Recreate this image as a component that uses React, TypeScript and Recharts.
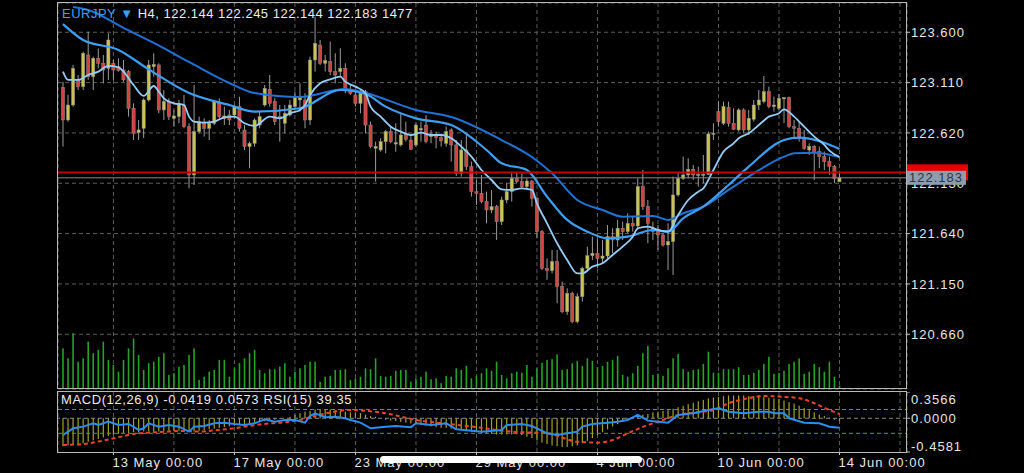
import React from 'react';
import {
  ComposedChart,
  Bar,
  Line,
  XAxis,
  YAxis,
  CartesianGrid,
  ReferenceLine,
} from 'recharts';

const FONT = "'Liberation Sans', Arial, sans-serif";

// EURJPY H4 candles, bar 0 .. bar 154 (last bar = 14 Jun 00:00)
const opens = [
  123.064, 122.746, 122.892, 123.136, 123.071, 123.379, 123.168, 123.346, 123.298, 123.249,
  123.298, 123.265, 123.233, 123.217, 122.860, 122.623, 122.665, 122.941, 123.265, 123.282,
  122.844, 122.925, 122.762, 122.779, 122.892, 122.681, 122.211, 122.633, 122.714, 122.665,
  122.714, 122.908, 122.762, 122.795, 122.795, 122.876, 122.649, 122.487, 122.519, 122.697,
  122.892, 123.045, 122.925, 122.779, 122.714, 122.795, 122.876, 122.941, 122.941, 122.746,
  123.330, 123.476, 123.298, 123.314, 123.217, 123.217, 123.249, 123.038, 122.990, 122.908,
  123.022, 122.697, 122.470, 122.454, 122.535, 122.633, 122.512, 122.503, 122.607, 122.551,
  122.503, 122.649, 122.697, 122.584, 122.600, 122.574, 122.519, 122.649, 122.503, 122.227,
  122.454, 122.292, 122.048, 122.032, 121.951, 121.870, 121.902, 121.756, 121.967, 122.048,
  122.178, 122.146, 122.097, 122.152, 121.984, 121.659, 121.302, 121.279, 121.367, 121.124,
  120.880, 121.059, 120.783, 121.026, 121.302, 121.425, 121.448, 121.399, 121.422, 121.610,
  121.578, 121.692, 121.659, 121.740, 121.714, 122.097, 121.902, 121.692, 121.675, 121.627,
  121.529, 121.562, 122.016, 122.178, 122.211, 122.266, 122.211, 122.211, 122.217, 122.610,
  122.827, 122.714, 122.869, 122.714, 122.649, 122.844, 122.649, 122.753, 122.892, 122.925,
  123.022, 122.876, 122.860, 122.951, 122.964, 122.681, 122.665, 122.568, 122.454, 122.487,
  122.438, 122.389, 122.341, 122.292, 122.144,
];
const highs = [
  123.119, 122.990, 123.282, 123.184, 123.411, 123.606, 123.363, 123.444, 123.379, 123.590,
  123.330, 123.346, 123.330, 123.233, 122.908, 122.746, 122.957, 123.330, 123.395, 123.298,
  123.038, 122.957, 122.844, 122.941, 122.990, 122.714, 123.087, 122.779, 122.762, 122.746,
  122.941, 122.957, 122.876, 122.844, 122.892, 122.973, 122.697, 122.535, 122.762, 122.827,
  123.087, 123.184, 122.957, 122.892, 122.892, 122.941, 123.022, 123.103, 123.006, 123.363,
  123.752, 123.525, 123.379, 123.509, 123.395, 123.444, 123.298, 123.087, 123.038, 123.038,
  123.038, 122.730, 122.535, 122.568, 122.649, 122.681, 122.714, 122.811, 122.730, 122.600,
  122.714, 122.730, 122.795, 122.649, 122.633, 122.616, 122.681, 122.665, 122.551, 122.551,
  122.616, 122.341, 122.162, 122.211, 122.048, 122.065, 121.919, 122.000, 122.130, 122.243,
  122.243, 122.227, 122.178, 122.162, 122.000, 121.675, 121.399, 121.481, 121.481, 121.172,
  121.107, 121.075, 121.059, 121.318, 121.513, 121.610, 121.594, 121.578, 121.724, 121.692,
  121.773, 121.756, 121.838, 121.805, 122.178, 122.259, 121.967, 121.756, 121.724, 121.643,
  121.740, 122.195, 122.243, 122.389, 122.373, 122.308, 122.292, 122.405, 122.633, 122.714,
  122.925, 122.925, 122.925, 122.860, 122.860, 122.860, 122.844, 122.941, 123.038, 123.174,
  123.071, 122.973, 122.999, 122.967, 122.973, 122.746, 122.730, 122.649, 122.519, 122.503,
  122.487, 122.438, 122.389, 122.308, 122.245,
];
const lows = [
  122.487, 122.730, 122.876, 123.038, 123.038, 123.136, 123.038, 123.249, 123.103, 123.136,
  123.136, 123.217, 123.119, 122.779, 122.551, 122.551, 122.568, 122.925, 123.168, 122.811,
  122.746, 122.746, 122.681, 122.714, 122.665, 122.081, 122.113, 122.616, 122.584, 122.551,
  122.697, 122.746, 122.697, 122.697, 122.762, 122.633, 122.454, 122.276, 122.487, 122.665,
  122.876, 122.876, 122.697, 122.535, 122.616, 122.779, 122.860, 122.827, 122.665, 122.697,
  123.217, 123.282, 123.217, 123.184, 123.103, 123.168, 123.006, 122.990, 122.876, 122.811,
  122.616, 122.470, 122.146, 122.438, 122.422, 122.519, 122.438, 122.487, 122.535, 122.454,
  122.487, 122.535, 122.519, 122.519, 122.470, 122.487, 122.487, 122.341, 122.201, 122.195,
  122.259, 122.000, 121.919, 121.935, 121.740, 121.838, 121.578, 121.724, 121.935, 121.951,
  122.130, 122.081, 122.065, 121.902, 121.594, 121.286, 121.189, 121.253, 120.961, 120.864,
  120.848, 120.767, 120.767, 120.978, 121.270, 121.383, 121.302, 121.351, 121.399, 121.448,
  121.513, 121.578, 121.643, 121.659, 121.675, 121.870, 121.546, 121.578, 121.481, 121.513,
  121.286, 121.237, 122.000, 122.162, 122.178, 122.162, 122.097, 122.130, 122.211, 122.551,
  122.681, 122.697, 122.681, 122.649, 122.633, 122.616, 122.600, 122.730, 122.844, 122.908,
  122.860, 122.827, 122.844, 122.714, 122.665, 122.568, 122.535, 122.454, 122.405, 122.162,
  122.276, 122.259, 122.211, 122.130, 122.144,
];
const closes = [
  122.746, 122.892, 123.249, 123.071, 123.395, 123.168, 123.346, 123.298, 123.233, 123.525,
  123.233, 123.226, 123.136, 122.860, 122.616, 122.649, 122.941, 123.282, 123.288, 122.844,
  122.925, 122.779, 122.785, 122.908, 122.681, 122.211, 122.633, 122.730, 122.665, 122.714,
  122.925, 122.779, 122.785, 122.746, 122.876, 122.665, 122.487, 122.519, 122.746, 122.779,
  123.054, 122.908, 122.730, 122.762, 122.811, 122.892, 122.973, 122.967, 122.746, 123.330,
  123.493, 123.298, 123.324, 123.217, 123.184, 123.249, 123.038, 123.006, 122.908, 123.006,
  122.697, 122.487, 122.487, 122.535, 122.633, 122.535, 122.525, 122.600, 122.558, 122.461,
  122.697, 122.665, 122.535, 122.600, 122.574, 122.542, 122.633, 122.503, 122.227, 122.454,
  122.292, 122.048, 122.032, 121.951, 121.870, 121.902, 121.756, 121.967, 122.048, 122.178,
  122.146, 122.097, 122.152, 121.984, 121.659, 121.302, 121.279, 121.367, 121.124, 120.880,
  121.059, 120.783, 121.026, 121.302, 121.425, 121.448, 121.399, 121.422, 121.610, 121.578,
  121.692, 121.659, 121.740, 121.714, 122.097, 121.902, 121.740, 121.659, 121.627, 121.529,
  121.562, 122.016, 122.178, 122.211, 122.266, 122.211, 122.217, 122.217, 122.610, 122.616,
  122.730, 122.876, 122.714, 122.655, 122.844, 122.649, 122.762, 122.892, 122.941, 123.022,
  122.876, 122.892, 122.957, 122.964, 122.681, 122.665, 122.568, 122.470, 122.487, 122.438,
  122.389, 122.341, 122.292, 122.178, 122.183,
];
const volumes = [
  18300, 13800, 25100, 12300, 13800, 21300, 16100, 17600, 21300, 13100,
  10800, 7800, 13100, 18300, 22800, 15300, 8600, 11600, 12300, 14500,
  16100, 6300, 7100, 10000, 10800, 15300, 18300, 4100, 5500, 7800,
  8600, 13100, 13100, 5500, 9300, 11600, 13800, 16100, 17600, 8600,
  7100, 8900, 8900, 10000, 11600, 5500, 7800, 9300, 10800, 12300,
  12300, 3300, 5500, 5900, 8600, 8600, 8900, 4100, 4800, 5500,
  9300, 8900, 13800, 5900, 5500, 5900, 8200, 8600, 8600, 3300,
  4800, 5500, 7800, 4400, 4800, 2600, 5900, 5500, 9300, 8600,
  10400, 4800, 5900, 7100, 9300, 8200, 12300, 6300, 4800, 7100,
  7800, 7300, 10800, 5500, 9300, 11800, 13100, 13400, 15600, 8600,
  8900, 11600, 12700, 10400, 13800, 12700, 9800, 10400, 12300, 13100,
  14900, 6300, 5500, 7100, 10400, 16100, 19400, 6300, 6800, 5900,
  9300, 13800, 15800, 8900, 7800, 8600, 8900, 11300, 16800, 7300,
  7300, 8900, 8900, 8900, 9800, 6300, 6300, 7300, 8600, 11300,
  14500, 6800, 7300, 8200, 11300, 12300, 13800, 6800, 7800, 11300,
  9800, 7800, 12300, 5500, 1477,
];

// moving averages, read at [bar, price]
const fastMa = [
  [0, 123.217], [1, 123.136], [3, 123.136], [5, 123.184], [7, 123.217], [9, 123.272], [11, 123.259],
  [12, 123.217], [14, 123.087], [16, 122.98], [18, 123.077], [19, 123.022], [20, 122.957], [22, 122.908],
  [24, 122.892], [25, 122.779], [26, 122.73], [28, 122.72], [30, 122.73], [32, 122.772], [34, 122.779],
  [36, 122.714], [38, 122.688], [41, 122.779], [43, 122.762], [45, 122.811], [47, 122.844], [48, 122.892],
  [49, 122.99], [51, 123.103], [53, 123.142], [55, 123.168], [56, 123.119], [58, 123.071], [60, 123.006],
  [61, 122.876], [63, 122.779], [65, 122.681], [67, 122.633], [69, 122.6], [71, 122.623], [73, 122.6],
  [75, 122.6], [77, 122.568], [79, 122.487], [81, 122.389], [83, 122.259], [85, 122.162], [87, 122.071],
  [89, 122.065], [91, 122.081], [93, 122.065], [94, 121.935], [96, 121.74], [98, 121.546], [100, 121.383],
  [102, 121.253], [103, 121.253], [105, 121.318], [107, 121.351], [109, 121.432], [111, 121.513],
  [113, 121.61], [114, 121.692], [116, 121.708], [118, 121.675], [120, 121.659], [122, 121.821],
  [124, 121.967], [126, 122.048], [127, 122.081], [129, 122.259], [131, 122.438], [133, 122.519],
  [134, 122.568], [136, 122.616], [138, 122.697], [140, 122.779], [142, 122.811], [143, 122.85],
  [145, 122.779], [147, 122.681], [149, 122.584], [151, 122.503], [152, 122.448], [154, 122.386],
];
const midMa = [
  [0, 123.68], [4, 123.525], [11, 123.428], [17, 123.239], [25, 123.009], [33, 122.892], [38, 122.827],
  [47, 122.86], [55, 123.038], [60, 122.999], [64, 122.876], [70, 122.762], [77, 122.697], [84, 122.454],
  [87, 122.324], [92, 122.259], [96, 122.0], [100, 121.773], [104, 121.659], [108, 121.594], [112, 121.61],
  [117, 121.675], [120, 121.659], [123, 121.789], [127, 121.902], [132, 122.113], [136, 122.292],
  [143, 122.551], [146, 122.574], [151, 122.525], [154, 122.464],
];
const slowMa = [
  [2, 123.846], [5, 123.817], [12, 123.642], [18, 123.496], [25, 123.311], [33, 123.106], [38, 123.009],
  [47, 122.97], [56, 123.048], [60, 123.009], [70, 122.844], [77, 122.775], [87, 122.551], [93, 122.386],
  [97, 122.227], [102, 121.967], [107, 121.87], [111, 121.805], [117, 121.812], [120, 121.773],
  [123, 121.838], [127, 121.902], [132, 122.065], [136, 122.195], [143, 122.389], [145, 122.422],
  [149, 122.428], [154, 122.386],
];

// MACD(12,26,9) main per bar
const macdMain = [
  -0.38, -0.37, -0.36, -0.35, -0.34, -0.32, -0.30, -0.28, -0.26, -0.24,
  -0.22, -0.21, -0.20, -0.20, -0.19, -0.19, -0.18, -0.18, -0.18, -0.18,
  -0.18, -0.17, -0.17, -0.17, -0.17, -0.18, -0.18, -0.17, -0.16, -0.15,
  -0.14, -0.13, -0.12, -0.11, -0.10, -0.09, -0.08, -0.07, -0.06, -0.05,
  -0.04, -0.03, -0.02, -0.01, 0.0, 0.02, 0.05, 0.07, 0.09, 0.10,
  0.12, 0.12, 0.12, 0.12, 0.11, 0.10, 0.09, 0.08, 0.08, 0.07,
  0.05, 0.03, 0.02, 0.0, -0.02, -0.03, -0.04, -0.05, -0.06, -0.07,
  -0.08, -0.09, -0.10, -0.11, -0.12, -0.13, -0.13, -0.14, -0.15, -0.16,
  -0.17, -0.18, -0.19, -0.20, -0.21, -0.21, -0.22, -0.22, -0.22, -0.22,
  -0.22, -0.23, -0.25, -0.27, -0.30, -0.33, -0.35, -0.37, -0.38, -0.39,
  -0.39, -0.38, -0.37, -0.34, -0.31, -0.27, -0.23, -0.19, -0.15, -0.11,
  -0.08, -0.05, -0.02, 0.01, 0.03, 0.05, 0.06, 0.08, 0.09, 0.10,
  0.11, 0.13, 0.15, 0.17, 0.19, 0.21, 0.23, 0.25, 0.27, 0.28,
  0.29, 0.30, 0.31, 0.31, 0.31, 0.31, 0.30, 0.30, 0.29, 0.29,
  0.28, 0.27, 0.26, 0.24, 0.22, 0.20, 0.17, 0.14, 0.11, 0.08,
  0.05, 0.03, 0.01, -0.02, -0.0419,
];
const macdSignal = [
  [0, -0.362], [4, -0.35], [7, -0.317], [11, -0.258], [14, -0.213], [17, -0.195], [21, -0.181],
  [24, -0.172], [27, -0.181], [31, -0.158], [34, -0.136], [37, -0.104], [40, -0.077], [44, -0.054],
  [47, -0.023], [50, 0.032], [54, 0.09], [57, 0.113], [60, 0.1], [64, 0.068], [67, 0.023], [70, -0.023],
  [74, -0.059], [77, -0.081], [80, -0.104], [83, -0.13], [86, -0.16], [89, -0.182], [96, -0.204],
  [102, -0.318], [106, -0.331], [109, -0.295], [112, -0.204], [116, -0.091], [119, -0.023], [122, 0.045],
  [129, 0.113], [132, 0.204], [136, 0.272], [139, 0.303], [142, 0.294], [146, 0.272], [149, 0.204],
  [152, 0.113], [154, 0.0573],
];
const rsi15 = [
  [0, 27.2], [2, 38.4], [4, 41.2], [6, 46.8], [7, 44], [9, 49.6], [11, 44], [13, 45.7], [15, 35.6],
  [16, 38.4], [17, 46.8], [19, 41.2], [21, 44], [23, 41.2], [25, 32.8], [26, 41.2], [28, 42.3],
  [30, 46.8], [32, 47.9], [34, 45.7], [36, 44], [38, 46.8], [40, 53.5], [42, 49.6], [44, 52.4],
  [46, 52.4], [48, 47.9], [49, 59.1], [50, 63.6], [52, 56.9], [54, 58], [56, 55.2], [57, 52.4],
  [59, 47.9], [61, 38.4], [64, 41.2], [66, 42.3], [69, 40.1], [70, 46.8], [73, 44], [76, 46.8],
  [78, 36.7], [81, 34.5], [83, 32.8], [87, 35.6], [88, 44], [91, 45.7], [93, 42.3], [96, 30],
  [98, 27.2], [100, 30], [102, 32.8], [103, 41.2], [105, 45.7], [108, 47.9], [110, 49.6], [112, 52.4],
  [114, 60.8], [116, 51.3], [118, 49.6], [120, 47.9], [122, 60.8], [125, 63.6], [128, 69.2], [130, 72],
  [132, 66.4], [135, 63.6], [138, 66.4], [140, 66.4], [141, 63.6], [143, 63.6], [144, 55.2],
  [147, 47.9], [150, 46.8], [152, 41.2], [154, 39.35],
];

const priceTicks = [123.6, 123.11, 122.62, 122.13, 121.64, 121.15, 120.66];
const macdTicks = [0.3566, 0, -0.4581];
const rsiLevels = [70, 30];
const gridBars = [10, 22, 34, 46, 58, 70, 82, 94, 106, 118, 130, 142, 154, 166];
const dateBars = [10, 34, 58, 82, 106, 130, 154];
const dateLabels = ['13 May 00:00', '17 May 00:00', '23 May 00:00', '29 May 00:00', '4 Jun 00:00', '10 Jun 00:00', '14 Jun 00:00'];
const askPrice = 122.236;
const bidPrice = 122.183;

const xDomain = [-0.992, 167.39];
const priceDomain = [120.127, 123.885];
const macdDomain = [-0.4581, 0.3566];
const rsiDomain = [-1.4, 99.4];
const volDomain = [0, 173700];

const fastAt = new Map(fastMa.map(([k, v]) => [k, v]));
const midAt = new Map(midMa.map(([k, v]) => [k, v]));
const slowAt = new Map(slowMa.map(([k, v]) => [k, v]));
const signalAt = new Map(macdSignal.map(([k, v]) => [k, v]));
const rsiAt = new Map(rsi15.map(([k, v]) => [k, v]));

const rows = opens.map((open, i) => ({
  i,
  open,
  high: highs[i],
  low: lows[i],
  close: closes[i],
  range: [lows[i], highs[i]],
  volume: volumes[i],
  fast: fastAt.get(i) ?? null,
  mid: midAt.get(i) ?? null,
  slow: slowAt.get(i) ?? null,
  macd: macdMain[i],
  signal: signalAt.get(i) ?? null,
  rsi: rsiAt.get(i) ?? null,
}));

const Candle = (props: any) => {
  const { x, y, width, height, payload } = props;
  if (x == null || y == null || !payload) return null;
  const cx = x + width / 2;
  const { open, close, high, low } = payload;
  const ppu = high - low > 0 ? height / (high - low) : 0;
  const yO = y + (high - open) * ppu;
  const yC = y + (high - close) * ppu;
  const top = Math.min(yO, yC);
  const h = Math.max(Math.abs(yO - yC), 1);
  const up = close >= open;
  return (
    <g>
      <line x1={cx} x2={cx} y1={y} y2={y + height} stroke="#9c9c9c" strokeWidth={1} />
      <rect x={cx - 1.6} y={top} width={3.2} height={h} fill={up ? '#c9c352' : '#d4433d'} stroke="#8c8c8c" strokeWidth={0.5} />
    </g>
  );
};

const VolBar = (props: any) => {
  const { x, y, width, height } = props;
  if (x == null || !height) return null;
  const cx = x + width / 2;
  return <rect x={cx - 0.8} y={y} width={1.6} height={height} fill="#24a324" />;
};

const HistBar = (props: any) => {
  const { x, y, width, height } = props;
  if (x == null || height == null) return null;
  const cx = x + width / 2;
  const top = height < 0 ? y + height : y;
  return <rect x={cx - 0.6} y={top} width={1.2} height={Math.abs(height)} fill="#a4a226" />;
};

const PriceTick = (props: any) => {
  const { x, y, payload } = props;
  return (
    <text x={x} y={y} dy={4.6} fill="#e6e6e6" fontSize={13} fontFamily={FONT} letterSpacing={1}>
      {Number(payload.value).toFixed(3)}
    </text>
  );
};

const MacdTick = (props: any) => {
  const { x, y, payload } = props;
  const v = Number(payload.value);
  const shift = v === macdDomain[1] ? 7 : v === macdDomain[0] ? -6 : 0;
  return (
    <text x={x} y={y + shift} dy={4.6} fill="#e6e6e6" fontSize={13} fontFamily={FONT} letterSpacing={1}>
      {v.toFixed(4)}
    </text>
  );
};

const DateTick = (props: any) => {
  const { x, y, payload } = props;
  const k = dateBars.indexOf(payload.value);
  return (
    <text x={x - 1} y={y} dy={9.5} textAnchor="start" fill="#e6e6e6" fontSize={13} fontFamily={FONT} letterSpacing={1}>
      {dateLabels[k]}
    </text>
  );
};

// price tag on the right of the pane; the ask tag is mostly covered by the bid tag
const PriceTag = (props: any) => {
  const { viewBox, text, bg, fg, w, h } = props;
  if (!viewBox) return null;
  const x = viewBox.x + viewBox.width;
  const y = viewBox.y;
  return (
    <g>
      <rect x={x} y={y - h / 2} width={w} height={h} fill={bg} />
      {text && (
        <text x={x + 2} y={y + 4.6} fill={fg} fontSize={13} fontFamily={FONT} letterSpacing={1}>
          {text}
        </text>
      )}
    </g>
  );
};

const App: React.FC = () => {
  return (
    <div style={{ position: 'fixed', left: 0, top: 0, width: 1024, height: 473, background: '#000', overflow: 'hidden', fontFamily: FONT }}>
      {/* price pane */}
      <div style={{ position: 'absolute', left: 0, top: 0 }}>
        <ComposedChart width={1024} height={392} data={rows} margin={{ top: 3, right: 0, bottom: 3, left: 58 }}>
          <CartesianGrid stroke="#5c5c5c" strokeDasharray="4 3" />
          <XAxis dataKey="i" type="number" domain={xDomain} ticks={gridBars} hide allowDataOverflow />
          <YAxis
            orientation="right"
            width={117}
            domain={priceDomain}
            ticks={priceTicks}
            interval={0}
            allowDataOverflow
            axisLine={false}
            tickLine={{ stroke: '#bdbdbd' }}
            tickSize={3}
            tickMargin={1}
            tick={<PriceTick />}
          />
          <Bar dataKey="range" shape={<Candle />} isAnimationActive={false} />
          <Line dataKey="slow" type="monotone" stroke="#1f72d6" strokeWidth={2} dot={false} connectNulls isAnimationActive={false} />
          <Line dataKey="mid" type="monotone" stroke="#3d9ff2" strokeWidth={2.2} dot={false} connectNulls isAnimationActive={false} />
          <Line dataKey="fast" type="monotone" stroke="#94cdf7" strokeWidth={1.8} dot={false} connectNulls isAnimationActive={false} />
        </ComposedChart>
      </div>

      {/* volume + current price lines */}
      <div style={{ position: 'absolute', left: 0, top: 0 }}>
        <ComposedChart width={1024} height={392} data={rows} margin={{ top: 3, right: 117, bottom: 3, left: 58 }}>
          <XAxis dataKey="i" type="number" domain={xDomain} ticks={gridBars} hide allowDataOverflow />
          <YAxis domain={priceDomain} hide allowDataOverflow />
          <YAxis yAxisId="vol" domain={volDomain} hide allowDataOverflow />
          <Bar yAxisId="vol" dataKey="volume" shape={<VolBar />} isAnimationActive={false} />
          <ReferenceLine
            y={askPrice}
            stroke="#c40000"
            strokeWidth={2}
            label={<PriceTag bg="#e60000" fg="#3a0000" w={61} h={16} />}
          />
          <ReferenceLine
            y={bidPrice}
            stroke="#8a8a8a"
            strokeWidth={1}
            label={<PriceTag text={bidPrice.toFixed(3)} bg="#8d9db0" fg="#2e3440" w={59} h={14} />}
          />
        </ComposedChart>
      </div>

      {/* MACD / RSI pane */}
      <div style={{ position: 'absolute', left: 0, top: 392 }}>
        <ComposedChart width={1024} height={81} data={rows} margin={{ top: 0, right: 0, bottom: 0, left: 58 }}>
          <CartesianGrid xAxisId="g" horizontal={false} stroke="#5c5c5c" strokeDasharray="4 3" />
          <XAxis xAxisId="g" dataKey="i" type="number" domain={xDomain} ticks={gridBars} hide allowDataOverflow />
          <XAxis
            dataKey="i"
            type="number"
            domain={xDomain}
            ticks={dateBars}
            interval={0}
            height={21}
            allowDataOverflow
            axisLine={false}
            tickSize={3}
            tickMargin={2}
            tickLine={{ stroke: '#d0d0d0' }}
            tick={<DateTick />}
          />
          <YAxis
            orientation="right"
            width={117}
            domain={macdDomain}
            ticks={macdTicks}
            interval={0}
            allowDataOverflow
            axisLine={false}
            tickLine={{ stroke: '#bdbdbd' }}
            tickSize={3}
            tickMargin={1}
            tick={<MacdTick />}
          />
          <YAxis yAxisId="rsi" domain={rsiDomain} hide allowDataOverflow />
          <ReferenceLine y={0} stroke="#8a8a8a" strokeDasharray="4 3" />
          {rsiLevels.map((lv) => (
            <ReferenceLine key={lv} yAxisId="rsi" y={lv} stroke="#5e9e10" strokeDasharray="4 3" />
          ))}
          <Bar dataKey="macd" shape={<HistBar />} isAnimationActive={false} />
          <Line dataKey="signal" type="monotone" stroke="#e8442c" strokeWidth={2} strokeDasharray="4 3" dot={false} connectNulls isAnimationActive={false} />
          <Line yAxisId="rsi" dataKey="rsi" type="linear" stroke="#2b8ff0" strokeWidth={2} dot={false} connectNulls isAnimationActive={false} />
        </ComposedChart>
      </div>

      {/* pane frames */}
      <div style={{ position: 'absolute', left: 57, top: 2, width: 850, height: 387, border: '1px solid #b8b8b8', boxSizing: 'border-box', pointerEvents: 'none' }} />
      <div style={{ position: 'absolute', left: 57, top: 391, width: 850, height: 62, border: '1px solid #b8b8b8', boxSizing: 'border-box', pointerEvents: 'none' }} />

      {/* header */}
      <div style={{ position: 'absolute', left: 62, top: 6, fontSize: 13, lineHeight: '15px', letterSpacing: 0.5, color: '#ececec', whiteSpace: 'nowrap' }}>
        <span style={{ color: '#38a2f2' }}>EURJPY </span>
        <span style={{ color: '#38a2f2' }}>▼</span>
        <span> H4, 122.144 122.245 122.144 122.183 1477</span>
      </div>
      <div style={{ position: 'absolute', left: 61, top: 393, fontSize: 13, lineHeight: '13px', letterSpacing: 0.6, color: '#ececec', whiteSpace: 'nowrap' }}>
        MACD(12,26,9) -0.0419 0.0573 RSI(15) 39.35
      </div>

      {/* home indicator */}
      <div style={{ position: 'absolute', left: 380, top: 456, width: 262, height: 7, borderRadius: 4, background: '#fff' }} />
    </div>
  );
};

export default App;
